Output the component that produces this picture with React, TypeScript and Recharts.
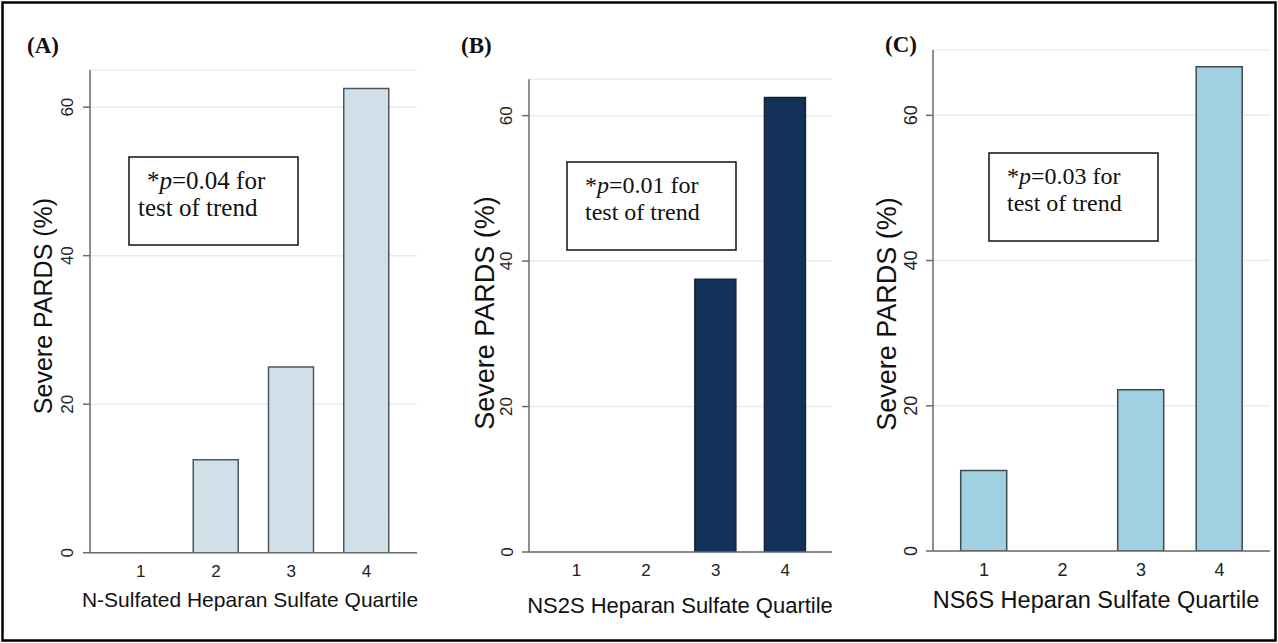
import React from 'react';
import { BarChart, Bar, XAxis, YAxis, CartesianGrid, Label } from 'recharts';

// ---------- data ----------
const quartiles = ['1', '2', '3', '4'];
const nSulfatedPct = [0, 12.5, 25, 62.5];
const ns2sPct = [0, 0, 37.5, 62.5];
const ns6sPct = [11.1, 0, 22.2, 66.7];
const yTicks = [0, 20, 40, 60];
const panelLetters = ['(A)', '(B)', '(C)'];
const pValues = ['0.04', '0.01', '0.03'];
const xTitles = [
  'N-Sulfated Heparan Sulfate Quartile',
  'NS2S Heparan Sulfate Quartile',
  'NS6S Heparan Sulfate Quartile',
];
const yTitle = 'Severe PARDS (%)';
const seriesList = [nSulfatedPct, ns2sPct, ns6sPct];

// ---------- layout / style ----------
const W = 1278;
const H = 643;
const SANS = '"Liberation Sans", Arial, sans-serif';
const SERIF = '"Liberation Serif", "Times New Roman", serif';
const Y_AXIS_W = 60;
const X_AXIS_H = 70;

const layouts = [
  {
    cl: 0, cr: 430, plotL: 90, plotR: 417, plotT: 70, plotB: 552.7, yMax: 65,
    barSize: 45, padL: 13, padR: 13, fill: '#d0e0e8', stroke: '#4f555a',
    yTitleX: 43, yTitleY: 306, yTitleSize: 25, xTitleX: 250, xTitleBase: 607, xTitleSize: 21,
    tickSize: 17, letter: { x: 27, y: 53 },
    box: { x: 129, y: 157, w: 169, h: 88, l1: 18, l2: 9, fs: 25, b1: 32, b2: 59 },
  },
  {
    cl: 430, cr: 850, plotL: 529, plotR: 832, plotT: 79.3, plotB: 552, yMax: 65,
    barSize: 41, padL: 12.7, padR: 12, fill: '#13325a', stroke: '#1c2430',
    yTitleX: 485, yTitleY: 313, yTitleSize: 27, xTitleX: 680, xTitleBase: 613, xTitleSize: 22,
    tickSize: 17, letter: { x: 461, y: 53 },
    box: { x: 567, y: 162, w: 169, h: 88, l1: 18, l2: 18, fs: 24, b1: 31, b2: 58 },
  },
  {
    cl: 850, cr: 1278, plotL: 933, plotR: 1270, plotT: 50, plotB: 551, yMax: 69,
    barSize: 46, padL: 11.7, padR: 11.3, fill: '#a0d0e2', stroke: '#3e4a50',
    yTitleX: 887, yTitleY: 314, yTitleSize: 27, xTitleX: 1096, xTitleBase: 608, xTitleSize: 23.5,
    tickSize: 18, letter: { x: 885, y: 52 },
    box: { x: 989, y: 153, w: 169, h: 88, l1: 18, l2: 18, fs: 24, b1: 31, b2: 58 },
  },
];

const makeYTick = (fontSize: number) => (props: any) => {
  const { x, y, payload } = props;
  const cx = x - 15;
  return (
    <text
      x={cx}
      y={y}
      transform={`rotate(-90 ${cx} ${y})`}
      textAnchor="middle"
      dominantBaseline="central"
      fontSize={fontSize}
      fontFamily={SANS}
      fill="#222"
    >
      {payload.value}
    </text>
  );
};

function Panel({ idx }: { idx: number }) {
  const L = layouts[idx];
  const values = seriesList[idx];
  const data = quartiles.map((q, i) => ({ q, v: values[i] }));
  const chartW = L.cr - L.cl;
  const margin = {
    top: L.plotT,
    right: L.cr - L.plotR,
    left: L.plotL - L.cl - Y_AXIS_W,
    bottom: H - L.plotB - X_AXIS_H,
  };
  const yTitleLocalX = L.yTitleX - L.cl;
  const xTitleLocalX = L.xTitleX - L.cl;
  return (
    <div style={{ position: 'absolute', left: L.cl, top: 0, width: chartW, height: H }}>
      <BarChart width={chartW} height={H} data={data} margin={margin}>
        <CartesianGrid vertical={false} stroke="#e4eef1" strokeWidth={1.5} />
        <XAxis
          dataKey="q"
          height={X_AXIS_H}
          padding={{ left: L.padL, right: L.padR }}
          axisLine={{ stroke: '#6a6a6a', strokeWidth: 1.5 }}
          tickLine={false}
          tickSize={6}
          tickMargin={6}
          tick={{ fontSize: L.tickSize, fill: '#222', fontFamily: SANS }}
        >
          <Label
            content={() => (
              <text
                x={xTitleLocalX}
                y={L.xTitleBase}
                textAnchor="middle"
                fontSize={L.xTitleSize}
                fontFamily={SANS}
                fill="#111"
              >
                {xTitles[idx]}
              </text>
            )}
          />
        </XAxis>
        <YAxis
          width={Y_AXIS_W}
          domain={[0, L.yMax]}
          ticks={yTicks}
          axisLine={{ stroke: '#6a6a6a', strokeWidth: 1.5 }}
          tickLine={{ stroke: '#6a6a6a', strokeWidth: 1.5 }}
          tickSize={7}
          tickMargin={0}
          tick={makeYTick(L.tickSize)}
          allowDataOverflow
        >
          <Label
            content={() => (
              <text
                x={yTitleLocalX}
                y={L.yTitleY}
                transform={`rotate(-90 ${yTitleLocalX} ${L.yTitleY})`}
                textAnchor="middle"
                dominantBaseline="central"
                fontSize={L.yTitleSize}
                fontFamily={SANS}
                fill="#111"
              >
                {yTitle}
              </text>
            )}
          />
        </YAxis>
        <Bar
          dataKey="v"
          fill={L.fill}
          stroke={L.stroke}
          strokeWidth={1.5}
          barSize={L.barSize}
          isAnimationActive={false}
        />
      </BarChart>
    </div>
  );
}

function Overlay() {
  return (
    <svg
      width={W}
      height={H}
      style={{ position: 'absolute', left: 0, top: 0, pointerEvents: 'none' }}
    >
      <rect x={2.5} y={2.5} width={W - 5} height={H - 5} fill="none" stroke="#000" strokeWidth={2.5} />
      {layouts.map((L, i) => (
        <g key={i}>
          <text
            x={L.letter.x}
            y={L.letter.y}
            fontFamily={SERIF}
            fontWeight="bold"
            fontSize={23}
            fill="#111"
          >
            {panelLetters[i]}
          </text>
          <rect
            x={L.box.x}
            y={L.box.y}
            width={L.box.w}
            height={L.box.h}
            fill="#fff"
            stroke="#111"
            strokeWidth={1.5}
          />
          <text x={L.box.x + L.box.l1} y={L.box.y + L.box.b1} fontFamily={SERIF} fontSize={L.box.fs} fill="#111">
            *<tspan fontStyle="italic">p</tspan>={pValues[i]} for
          </text>
          <text x={L.box.x + L.box.l2} y={L.box.y + L.box.b2} fontFamily={SERIF} fontSize={L.box.fs} fill="#111">
            test of trend
          </text>
        </g>
      ))}
    </svg>
  );
}

export default function App() {
  return (
    <div
      style={{
        position: 'absolute',
        left: 0,
        top: 0,
        width: W,
        height: H,
        background: '#fff',
        overflow: 'hidden',
      }}
    >
      {[0, 1, 2].map((i) => (
        <Panel key={i} idx={i} />
      ))}
      <Overlay />
    </div>
  );
}
